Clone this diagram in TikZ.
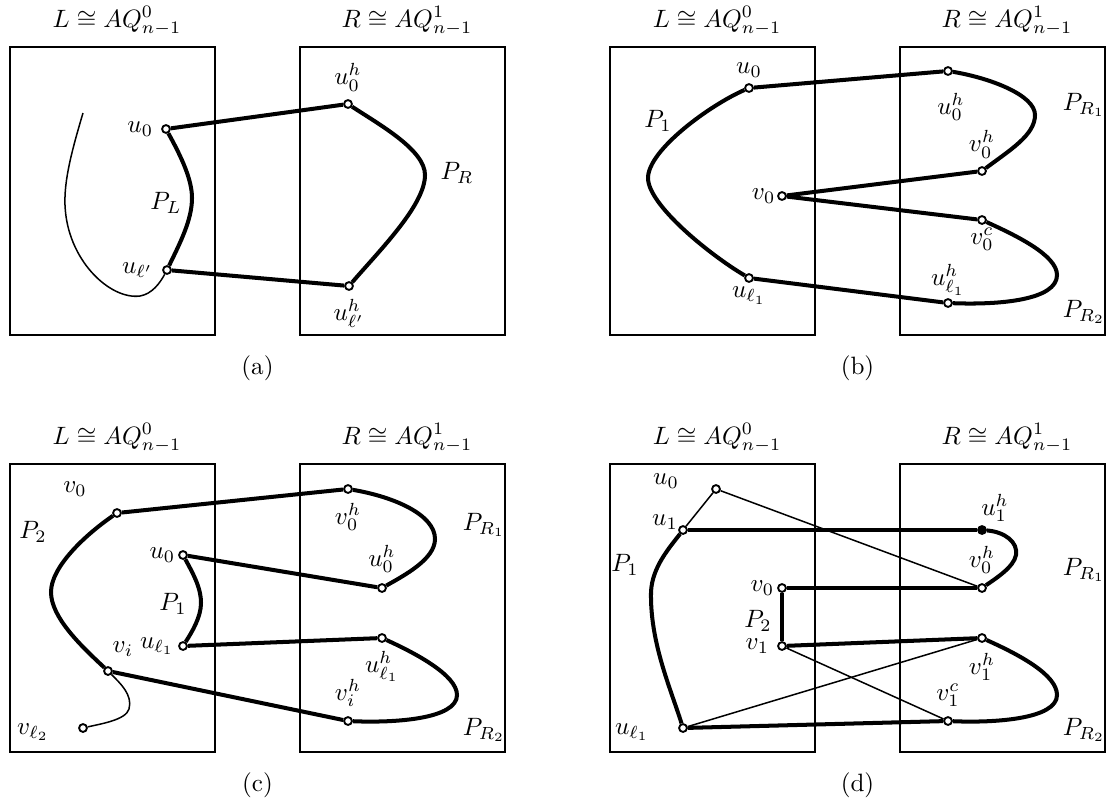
\documentclass[tikz,border=0pt]{standalone}
\usepackage{amsmath,amssymb}
\usepackage{tikz}
\usetikzlibrary{positioning}

\begin{document}
\begin{tikzpicture}[x=0.014cm, y=-0.014cm,
  cube/.style={draw, line width=0.9pt},
  dot/.style={circle, draw, fill=white, line width=0.75pt, inner sep=0pt, minimum size=1.1mm},
  fdot/.style={dot, fill=black},
  lbl/.style={inner sep=0pt},
  thk/.style={line width=1.6pt},
  thn/.style={line width=0.6pt}]
\useasboundingbox (0,0) rectangle (1106,805);
% the two halves of every panel
\foreach \dx/\dy/\p in {0/0/a, 600/0/b, 0/417/c, 600/417/d}{
  \begin{scope}[shift={(\dx,\dy)}]
    \draw[cube] (10,47) rectangle (215,335);
    \draw[cube] (300,47) rectangle (505,335);
    \node[lbl, anchor=base] (\p-Lt) at (117,27) {$L\cong AQ_{n-1}^{0}$};
    \node[lbl, anchor=base] (\p-Rt) at (407,27) {$R\cong AQ_{n-1}^{1}$};
    \node[lbl, anchor=base] (\p-cap) at (257.5,374) {(\p)};
  \end{scope}
}
% (a)
\node[dot] (a-u0) at (166,129) {};
\node[dot] (a-ul) at (167,270) {};
\node[dot] (a-u0h) at (348,104) {};
\node[dot] (a-ulh) at (349,286) {};
\coordinate (a-s) at (83,113);
\draw[thk] (a-u0)--(a-u0h); \draw[thk] (a-ul)--(a-ulh);
\draw[thk] (a-u0) .. controls (182,158) and (192,180) .. (192,198) .. controls (192,220) and (180,243) .. (a-ul);
\draw[thk] (a-u0h) .. controls (380,125) and (425,150) .. (425,175) .. controls (425,205) and (380,250) .. (a-ulh);
\draw[thn] (a-s) .. controls (72,150) and (64,180) .. (65,205) .. controls (67,260) and (110,300) .. (140,296) .. controls (152,294) and (160,283) .. (a-ul);
\node[lbl, left=3pt of a-u0] (a-u0l) {$u_0$};
\node[lbl, left=3.5pt of a-ul] (a-ull) {$u_{\ell'}$};
\node[lbl, above=3pt of a-u0h] (a-u0hl) {$u_0^h$};
\node[lbl, below=3pt of a-ulh] (a-ulhl) {$u_{\ell'}^h$};
\node[lbl] (a-PL) at (166,203) {$P_L$};
\node[lbl] (a-PR) at (457,173) {$P_R$};
% (b)
\begin{scope}[shift={(600,0)}]
\node[dot] (b-u0) at (149,88) {};
\node[dot] (b-ul) at (149,278) {};
\node[dot] (b-v0) at (182,196) {};
\node[dot] (b-u0h) at (348,71) {};
\node[dot] (b-v0h) at (382,171) {};
\node[dot] (b-v0c) at (382,220) {};
\node[dot] (b-ulh) at (348,303) {};
\draw[thk] (b-u0)--(b-u0h); \draw[thk] (b-v0)--(b-v0h);
\draw[thk] (b-v0)--(b-v0c); \draw[thk] (b-ul)--(b-ulh);
\draw[thk] (b-u0) .. controls (110,105) and (48,150) .. (48,178) .. controls (48,205) and (110,255) .. (b-ul);
\draw[thk] (b-u0h) .. controls (390,78) and (435,95) .. (435,115) .. controls (435,135) and (410,150) .. (b-v0h);
\draw[thk] (b-v0c) .. controls (415,235) and (457,255) .. (457,275) .. controls (457,300) and (400,305) .. (b-ulh);
\node[lbl, above=2pt of b-u0] (b-u0l) {$u_0$};
\node[lbl, below=1.5pt of b-ul] (b-ull) {$u_{\ell_1}$};
\node[lbl, left=0.5pt of b-v0] (b-v0l) {$v_0$};
\node[lbl] (b-P1) at (58,121) {$P_1$};
\node[lbl] (b-u0hl) at (351,107) {$u_0^h$};
\node[lbl, above=3pt of b-v0h] (b-v0hl) {$v_0^h$};
\node[lbl, below=1pt of b-v0c] (b-v0cl) {$v_0^c$};
\node[lbl, above=1pt of b-ulh] (b-ulhl) {$u_{\ell_1}^h$};
\node[lbl] (b-PR1) at (484,105) {$P_{R_1}$};
\node[lbl] (b-PR2) at (484,312) {$P_{R_2}$};
\end{scope}
% (c)
\begin{scope}[shift={(0,417)}]
\node[dot] (c-v0) at (117,96) {};
\node[dot] (c-u0) at (183,138) {};
\node[dot] (c-ul) at (183,229) {};
\node[dot] (c-vi) at (108,254) {};
\node[dot] (c-vl) at (83,311) {};
\node[dot] (c-v0h) at (348,72) {};
\node[dot] (c-u0h) at (382,171) {};
\node[dot] (c-ulh) at (382,221) {};
\node[dot] (c-vih) at (348,304) {};
\draw[thk] (c-v0)--(c-v0h); \draw[thk] (c-u0)--(c-u0h);
\draw[thk] (c-ul)--(c-ulh); \draw[thk] (c-vi)--(c-vih);
\draw[thk] (c-v0) .. controls (85,118) and (51,150) .. (51,175) .. controls (51,200) and (80,228) .. (c-vi);
\draw[thn] (c-vi) .. controls (120,266) and (133,278) .. (129,292) .. controls (126,303) and (100,307) .. (c-vl);
\draw[thk] (c-u0) .. controls (195,160) and (201,172) .. (201,186) .. controls (201,200) and (192,215) .. (c-ul);
\draw[thk] (c-v0h) .. controls (395,80) and (435,98) .. (435,122) .. controls (435,142) and (405,158) .. (c-u0h);
\draw[thk] (c-ulh) .. controls (415,236) and (457,258) .. (457,278) .. controls (457,302) and (395,306) .. (c-vih);
\node[lbl] (c-v0l) at (75,72) {$v_0$};
\node[lbl] (c-P2) at (33,115) {$P_2$};
\node[lbl, left=1pt of c-u0] (c-u0l) {$u_0$};
\node[lbl] (c-P1) at (173,187) {$P_1$};
\node[lbl, left=1.5pt of c-ul] (c-ull) {$u_{\ell_1}$};
\node[lbl] (c-vil) at (123,232) {$v_i$};
\node[lbl] (c-vll) at (33,315) {$v_{\ell_2}$};
\node[lbl, below=3.5pt of c-v0h] (c-v0hl) {$v_0^h$};
\node[lbl, above=4pt of c-u0h] (c-u0hl) {$u_0^h$};
\node[lbl, below=3pt of c-ulh] (c-ulhl) {$u_{\ell_1}^h$};
\node[lbl, above=3.5pt of c-vih] (c-vihl) {$v_i^h$};
\node[lbl] (c-PR1) at (484,108) {$P_{R_1}$};
\node[lbl] (c-PR2) at (484,313) {$P_{R_2}$};
\end{scope}
% (d)
\begin{scope}[shift={(600,417)}]
\node[dot] (d-u0) at (116,72) {};
\node[dot] (d-u1) at (83,113) {};
\node[dot] (d-v0) at (182,171) {};
\node[dot] (d-v1) at (182,229) {};
\node[dot] (d-ul) at (83,311) {};
\node[fdot] (d-u1h) at (382,113) {};
\node[dot] (d-v0h) at (382,171) {};
\node[dot] (d-v1h) at (382,221) {};
\node[dot] (d-v1c) at (348,304) {};
\draw[thn] (d-u0)--(d-u1); \draw[thn] (d-u0)--(d-v0h);
\draw[thn] (d-v1)--(d-v1c); \draw[thn] (d-ul)--(d-v1h);
\draw[thk] (d-u1)--(d-u1h); \draw[thk] (d-v0)--(d-v0h);
\draw[thk] (d-v0)--(d-v1); \draw[thk] (d-v1)--(d-v1h); \draw[thk] (d-ul)--(d-v1c);
\draw[thk] (d-u1) .. controls (70,130) and (52,150) .. (51,175) .. controls (50,225) and (70,270) .. (d-ul);
\draw[thk] (d-u1h) .. controls (405,115) and (418,125) .. (416,138) .. controls (414,150) and (395,162) .. (d-v0h);
\draw[thk] (d-v1h) .. controls (420,238) and (457,258) .. (457,278) .. controls (457,302) and (395,306) .. (d-v1c);
\node[lbl] (d-u0l) at (66,64) {$u_0$};
\node[lbl] (d-u1l) at (65,105) {$u_1$};
\node[lbl] (d-P1) at (25,148) {$P_1$};
\node[lbl, left=1pt of d-v0] (d-v0l) {$v_0$};
\node[lbl] (d-P2) at (158,204) {$P_2$};
\node[lbl, left=3pt of d-v1] (d-v1l) {$v_1$};
\node[lbl] (d-ull) at (32,315) {$u_{\ell_1}$};
\node[lbl] (d-u1hl) at (395,91) {$u_1^h$};
\node[lbl, above=3.5pt of d-v0h] (d-v0hl) {$v_0^h$};
\node[lbl, below=4pt of d-v1h] (d-v1hl) {$v_1^h$};
\node[lbl, above=3.5pt of d-v1c] (d-v1cl) {$v_1^c$};
\node[lbl] (d-PR1) at (484,153) {$P_{R_1}$};
\node[lbl] (d-PR2) at (484,313) {$P_{R_2}$};
\end{scope}
\end{tikzpicture}
\end{document}
